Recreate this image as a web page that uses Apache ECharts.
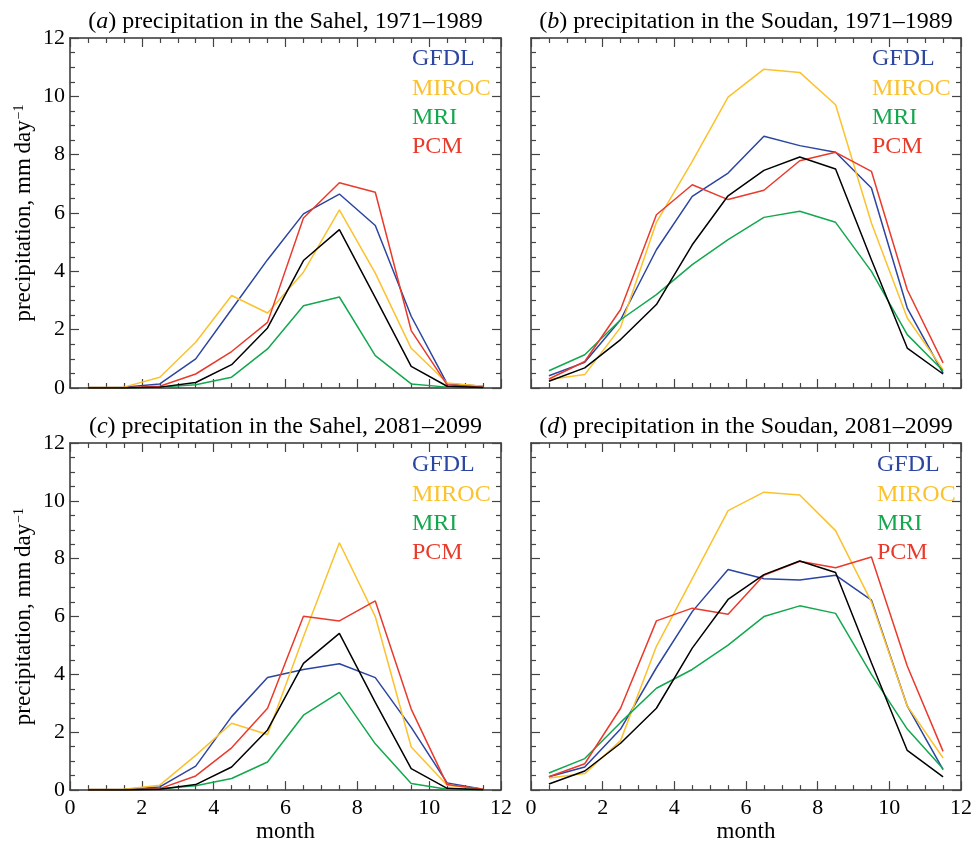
<!DOCTYPE html>
<html>
<head>
<meta charset="utf-8">
<script src="https://cdn.jsdelivr.net/npm/echarts@6/dist/echarts.min.js"></script>
<style>
html,body{margin:0;padding:0;background:#fff;}
#chart{width:975px;height:844px;}
</style>
</head>
<body>
<div id="chart"></div>
<script>
// ---- data ----
const months = [0.5, 1.5, 2.5, 3.5, 4.5, 5.5, 6.5, 7.5, 8.5, 9.5, 10.5, 11.5];
const modelNames = ['GFDL', 'MIROC', 'MRI', 'PCM'];
const xTicks = [0, 2, 4, 6, 8, 10, 12];
const yTicks = [0, 2, 4, 6, 8, 10, 12];

// (a) Sahel 1971-1989
const sahelPast_GFDL  = [0.02, 0.03, 0.14, 1.00, 2.70, 4.40, 5.97, 6.65, 5.57, 2.46, 0.15, 0.06];
const sahelPast_MIROC = [0.02, 0.03, 0.37, 1.57, 3.17, 2.57, 3.97, 6.11, 3.94, 1.36, 0.17, 0.06];
const sahelPast_MRI   = [0.00, 0.00, 0.03, 0.11, 0.37, 1.34, 2.82, 3.12, 1.11, 0.14, 0.03, 0.02];
const sahelPast_PCM   = [0.00, 0.01, 0.06, 0.48, 1.25, 2.25, 5.83, 7.04, 6.71, 1.97, 0.11, 0.03];
const sahelPast_OBS   = [0.00, 0.00, 0.03, 0.19, 0.80, 2.06, 4.37, 5.43, 3.10, 0.74, 0.06, 0.02];

// (b) Soudan 1971-1989
const soudanPast_GFDL  = [0.42, 0.88, 2.34, 4.74, 6.57, 7.37, 8.63, 8.31, 8.08, 6.86, 2.74, 0.51];
const soudanPast_MIROC = [0.29, 0.46, 2.08, 5.68, 7.77, 9.97, 10.93, 10.82, 9.71, 5.66, 2.40, 0.63];
const soudanPast_MRI   = [0.59, 1.14, 2.34, 3.20, 4.23, 5.09, 5.85, 6.06, 5.68, 4.00, 1.83, 0.59];
const soudanPast_PCM   = [0.31, 0.91, 2.69, 5.94, 6.97, 6.46, 6.78, 7.79, 8.08, 7.43, 3.37, 0.86];
const soudanPast_OBS   = [0.23, 0.69, 1.66, 2.86, 4.91, 6.59, 7.46, 7.92, 7.51, 4.40, 1.37, 0.48];

// (c) Sahel 2081-2099
const sahelFut_GFDL  = [0.02, 0.03, 0.11, 0.83, 2.54, 3.89, 4.17, 4.37, 3.89, 2.17, 0.25, 0.03];
const sahelFut_MIROC = [0.02, 0.03, 0.17, 1.20, 2.31, 1.92, 5.30, 8.55, 6.00, 1.49, 0.17, 0.03];
const sahelFut_MRI   = [0.00, 0.01, 0.05, 0.15, 0.40, 0.97, 2.59, 3.38, 1.60, 0.23, 0.03, 0.01];
const sahelFut_PCM   = [0.00, 0.01, 0.05, 0.49, 1.46, 2.83, 6.01, 5.85, 6.54, 2.80, 0.19, 0.03];
const sahelFut_OBS   = [0.00, 0.00, 0.03, 0.19, 0.80, 2.08, 4.38, 5.42, 3.03, 0.74, 0.06, 0.01];

// (d) Soudan 2081-2099
const soudanFut_GFDL  = [0.46, 0.80, 2.11, 4.23, 6.17, 7.63, 7.31, 7.26, 7.43, 6.57, 2.91, 0.71];
const soudanFut_MIROC = [0.42, 0.57, 1.71, 4.97, 7.31, 9.66, 10.30, 10.20, 8.97, 6.51, 2.91, 1.11];
const soudanFut_MRI   = [0.59, 1.09, 2.34, 3.52, 4.17, 5.01, 6.00, 6.37, 6.11, 4.00, 2.11, 0.74];
const soudanFut_PCM   = [0.46, 0.91, 2.83, 5.85, 6.29, 6.08, 7.43, 7.91, 7.69, 8.06, 4.29, 1.34];
const soudanFut_OBS   = [0.21, 0.66, 1.62, 2.83, 4.91, 6.59, 7.45, 7.92, 7.52, 4.40, 1.37, 0.46];

const panelLetters = ['a', 'b', 'c', 'd'];
const panelTitles = [
  'precipitation in the Sahel, 1971\u20131989',
  'precipitation in the Soudan, 1971\u20131989',
  'precipitation in the Sahel, 2081\u20132099',
  'precipitation in the Soudan, 2081\u20132099'
];
const yAxisTitle = 'precipitation, mm\u2009day';
const xAxisTitle = 'month';

const panelData = [
  [sahelPast_GFDL, sahelPast_MIROC, sahelPast_MRI, sahelPast_PCM, sahelPast_OBS],
  [soudanPast_GFDL, soudanPast_MIROC, soudanPast_MRI, soudanPast_PCM, soudanPast_OBS],
  [sahelFut_GFDL, sahelFut_MIROC, sahelFut_MRI, sahelFut_PCM, sahelFut_OBS],
  [soudanFut_GFDL, soudanFut_MIROC, soudanFut_MRI, soudanFut_PCM, soudanFut_OBS]
];

// ---- styles / layout ----
const colors = ['#2b45a0', '#fcc22d', '#13a84e', '#e93a2c', '#000000'];
const FONT = "'Liberation Serif', 'Times New Roman', serif";
const grids = [
  {left: 70, top: 38, width: 431, height: 350},
  {left: 531, top: 38, width: 430, height: 350},
  {left: 70, top: 443, width: 431, height: 350},
  {left: 531, top: 443, width: 430, height: 350}
];
const legendPos = [
  {x: 412, y: 60}, {x: 872, y: 60}, {x: 412, y: 466}, {x: 877, y: 466}
];
const legendStep = 29.3;

const axisLineStyle = {color: '#333', width: 1.5};
const tickStyle = {color: '#444', width: 1.2};

const xAxes = [], yAxes = [], series = [], graphics = [], titles = [];
grids.forEach((g, i) => {
  const bottomRow = i >= 2, leftCol = (i % 2) === 0;
  const baseX = {
    type: 'value', gridIndex: i, min: 0, max: 12, interval: 2,
    axisLine: {show: true, lineStyle: axisLineStyle, onZero: false},
    axisTick: {show: true, inside: true, length: 9, lineStyle: tickStyle},
    minorTick: {show: true, splitNumber: 4, length: 5, lineStyle: tickStyle},
    splitLine: {show: false}, minorSplitLine: {show: false}
  };
  xAxes.push(Object.assign({}, baseX, {
    position: 'bottom',
    axisLabel: {show: bottomRow, color: '#000', fontSize: 22, fontFamily: FONT, margin: 7,
      formatter: v => xTicks.includes(v) ? String(v) : ''},
    name: bottomRow ? xAxisTitle : '', nameLocation: 'middle', nameGap: 29,
    nameTextStyle: {color: '#000', fontSize: 23, fontFamily: FONT}
  }));
  xAxes.push(Object.assign({}, baseX, {position: 'top', axisLabel: {show: false}}));
  const baseY = {
    type: 'value', gridIndex: i, min: 0, max: 12, interval: 2,
    axisLine: {show: true, lineStyle: axisLineStyle, onZero: false},
    axisTick: {show: true, inside: true, length: 9, lineStyle: tickStyle},
    minorTick: {show: true, splitNumber: 4, length: 5, lineStyle: tickStyle},
    splitLine: {show: false}, minorSplitLine: {show: false}
  };
  yAxes.push(Object.assign({}, baseY, {
    position: 'left',
    axisLabel: {show: leftCol, color: '#000', fontSize: 22, fontFamily: FONT, margin: 5,
      formatter: v => yTicks.includes(v) ? String(v) : ''},
    name: leftCol ? '{t|' + yAxisTitle + '}{s|\u22121}' : '', nameLocation: 'middle', nameRotate: 90, nameGap: 34,
    nameTextStyle: {color: '#000', fontFamily: FONT,
      rich: {t: {fontSize: 23, fontFamily: FONT, color: '#000'},
             s: {fontSize: 14, fontFamily: FONT, color: '#000', verticalAlign: 'top', padding: [0, 0, 10, 1]}}}
  }));
  yAxes.push(Object.assign({}, baseY, {position: 'right', axisLabel: {show: false}}));

  panelData[i].forEach((arr, k) => {
    series.push({
      name: k < 4 ? modelNames[k] : 'observed',
      type: 'line', xAxisIndex: 2 * i, yAxisIndex: 2 * i,
      data: months.map((m, j) => [m, arr[j]]),
      showSymbol: false, symbol: 'none', silent: true, animation: false,
      lineStyle: {color: colors[k], width: 1.5},
      z: k === 4 ? 3 : 2
    });
  });

  titles.push({
    text: '({it|' + panelLetters[i] + '}) ' + panelTitles[i],
    left: g.left + g.width / 2 - 5, top: g.top - 33, textAlign: 'center',
    textStyle: {fontSize: 24, fontWeight: 'normal', fontFamily: FONT, color: '#000',
      rich: {it: {fontSize: 24, fontStyle: 'italic', fontFamily: FONT, color: '#000'}}}
  });

  modelNames.forEach((nm, k) => {
    graphics.push({
      type: 'text', left: legendPos[i].x, top: legendPos[i].y + k * legendStep - 13,
      style: {text: nm, fill: colors[k], fontSize: 24, fontFamily: FONT}
    });
  });
});

const chart = echarts.init(document.getElementById('chart'), null, {renderer: 'canvas'});
chart.setOption({
  backgroundColor: '#fff',
  animation: false,
  title: titles,
  grid: grids,
  xAxis: xAxes,
  yAxis: yAxes,
  series: series,
  graphic: graphics
});
</script>
</body>
</html>
